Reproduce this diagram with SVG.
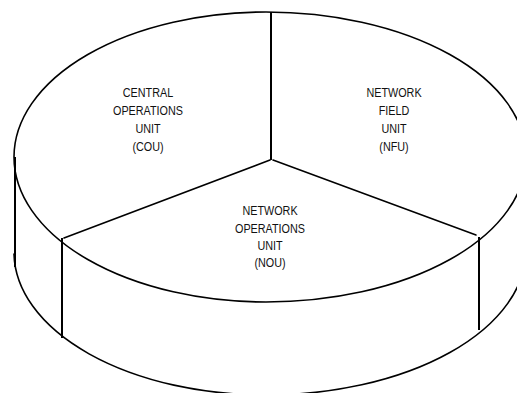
<svg xmlns="http://www.w3.org/2000/svg" width="517" height="393" viewBox="0 0 517 393">
<style>
.ln{fill:none;stroke:#000;stroke-width:1.6;stroke-linecap:round}
.vt{fill:none;stroke:#000;stroke-width:2}
.lb{font-family:"Liberation Sans",Arial,sans-serif;font-size:13.5px;fill:#111;text-anchor:middle}
</style>
<rect width="517" height="393" fill="#fff"/>
<g id="connectors">
<path class="ln" d="M266 12 A252 145 0 0 0 266 302 A260 145 0 0 0 266 12 Z"/>
<path class="ln" d="M14 254 A252 143 0 0 0 266 395 A260 145 0 0 0 526 250"/>
<line class="vt" x1="15" y1="157" x2="15" y2="267"/>
<line class="vt" x1="62" y1="238" x2="62" y2="338"/>
<line class="vt" x1="479" y1="237" x2="479" y2="330"/>
<line class="vt" x1="271" y1="12" x2="271" y2="160"/>
<line class="ln" x1="270" y1="160" x2="64" y2="238"/>
<line class="ln" x1="273" y1="160" x2="476" y2="235"/>
</g>
<g id="cou" transform="matrix(0.8 0 0 1 29.6 0)">
<text class="lb" x="148" y="97">CENTRAL</text>
<text class="lb" x="148" y="115">OPERATIONS</text>
<text class="lb" x="148" y="133">UNIT</text>
<text class="lb" x="148" y="151">(COU)</text>
</g>
<g id="nfu" transform="matrix(0.8 0 0 1 78.8 0)">
<text class="lb" x="394" y="97">NETWORK</text>
<text class="lb" x="394" y="115">FIELD</text>
<text class="lb" x="394" y="133">UNIT</text>
<text class="lb" x="394" y="151">(NFU)</text>
</g>
<g id="nou" transform="matrix(0.8 0 0 1 54 0)">
<text class="lb" x="270" y="215">NETWORK</text>
<text class="lb" x="270" y="233">OPERATIONS</text>
<text class="lb" x="270" y="250">UNIT</text>
<text class="lb" x="270" y="267">(NOU)</text>
</g>
</svg>
